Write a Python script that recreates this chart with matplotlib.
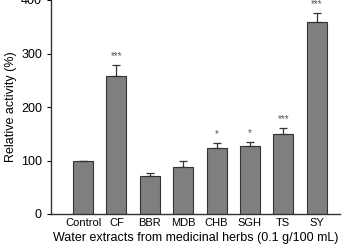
import matplotlib
matplotlib.use("Agg")
import matplotlib.pyplot as plt
import numpy as np

plt.rcParams['font.family'] = ['Liberation Sans', 'DejaVu Sans']

herbs = ["Control", "CF", "BBR", "MDB", "CHB", "SGH", "TS", "SY"]
activity = [100, 258, 71, 87, 124, 128, 150, 358]
errors = [0, 20, 5, 13, 9, 7, 10, 17]
stars = ["", "***", "", "", "*", "*", "***", "***"]

fig = plt.figure(figsize=(3.61, 2.52), dpi=100)
ax = fig.add_axes([51/361, 38/252, 289/361, 214/252])

x = np.arange(len(herbs))
ax.bar(x, activity, width=0.6, color='#7f7f7f', edgecolor='#333333', linewidth=0.8,
       yerr=[np.zeros(len(errors)), errors],
       error_kw=dict(ecolor='#333333', elinewidth=0.9, capsize=3, capthick=0.9))

for i, s in enumerate(stars):
	if s:
		ax.text(x[i], activity[i] + errors[i] + 17, s, ha='center', va='center',
			fontsize=7, color='#555555', clip_on=False)

ax.set_xlim(-0.96, 7.7)
ax.set_ylim(0, 400)
ax.set_yticks([0, 100, 200, 300, 400])
ax.set_xticks(x)
ax.set_xticklabels(herbs, fontsize=8)
ax.tick_params(axis='x', length=0, pad=3)
ax.tick_params(axis='y', labelsize=9, length=3, width=0.8, direction='out')
for side in ['top', 'right']:
	ax.spines[side].set_visible(False)
for side in ['left', 'bottom']:
	ax.spines[side].set_linewidth(1.0)
	ax.spines[side].set_color('#333333')
ax.set_ylabel('Relative activity (%)', fontsize=9, labelpad=3)
ax.set_xlabel('Water extracts from medicinal herbs (0.1 g/100 mL)', fontsize=9, labelpad=3)

plt.savefig('out.png', dpi=100)
plt.close()
